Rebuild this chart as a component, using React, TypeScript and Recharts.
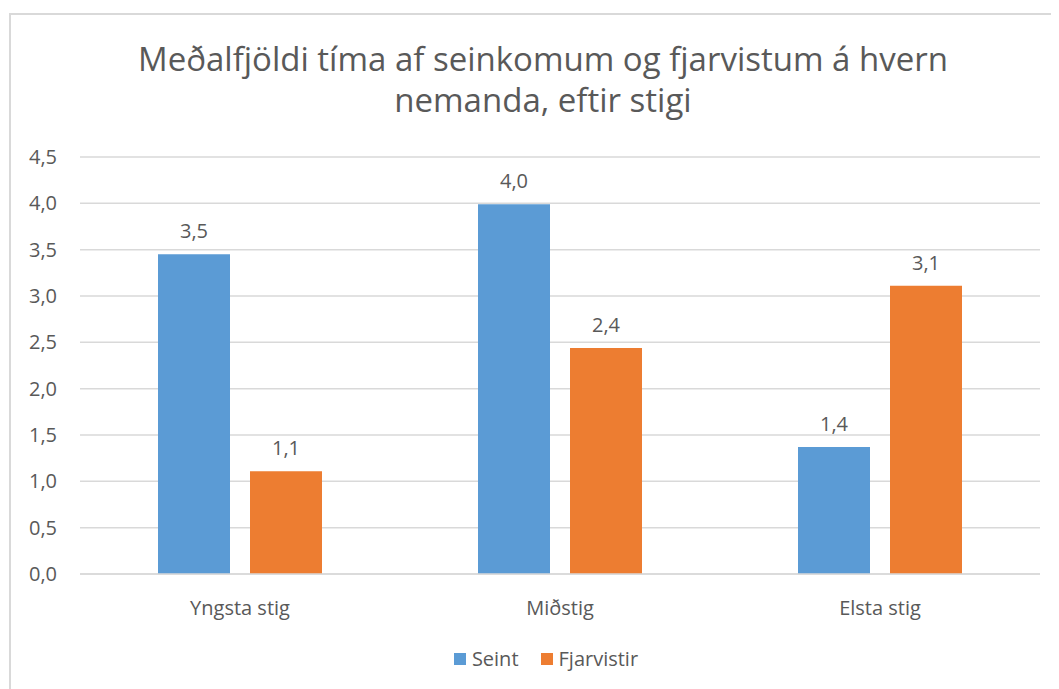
import React from "react";
import { BarChart, Bar, XAxis, YAxis, CartesianGrid, LabelList } from "recharts";

const categories = ["Yngsta stig", "Miðstig", "Elsta stig"];
const seint = [3.45, 3.99, 1.37];
const fjarvistir = [1.11, 2.44, 3.11];
const yTicks = [0, 0.5, 1, 1.5, 2, 2.5, 3, 3.5, 4, 4.5];
const titleLines = ["Meðalfjöldi tíma af seinkomum og fjarvistum á hvern", "nemanda, eftir stigi"];
const seriesNames = ["Seint", "Fjarvistir"];
const colors = ["#5B9BD5", "#ED7D31"];

const data = categories.map((c, i) => ({ name: c, seint: seint[i], fjarvistir: fjarvistir[i] }));

const FONT = "'Open Sans', sans-serif";
const TEXT = "#595959";
const fmt = (v: number) => v.toFixed(1).replace(".", ",");

export default function App() {
  return (
    <div style={{ position: "relative", width: 1051, height: 681, fontFamily: FONT, overflow: "hidden" }}>
      <div style={{ position: "absolute", left: 1, top: 5, width: 1100, height: 700, borderTop: "2px solid #d9d9d9", borderLeft: "2px solid #d9d9d9" }} />
      <div style={{ position: "absolute", left: 55, width: 960, top: 30, textAlign: "center", color: TEXT, fontSize: 33, lineHeight: "41px" }}>
        {titleLines.map((t) => (
          <div key={t}>{t}</div>
        ))}
      </div>
      <div style={{ position: "absolute", left: 0, top: 0 }}>
        <BarChart width={1051} height={681} data={data} margin={{ top: 149, right: 19, bottom: 65, left: 0 }} barSize={72} barGap={20} barCategoryGap={78}>
          <CartesianGrid vertical={false} stroke="#d9d9d9" strokeWidth={1.5} />
          <XAxis dataKey="name" tickLine={false} axisLine={{ stroke: "#d9d9d9", strokeWidth: 1.5 }} tick={{ fill: TEXT, fontSize: 20, fontFamily: FONT }} tickMargin={21} height={50} />
          <YAxis domain={[0, 4.5]} ticks={yTicks} tickFormatter={fmt} axisLine={false} tickLine={false} tickSize={0} tickMargin={23} width={72} tick={{ fill: TEXT, fontSize: 20, fontFamily: FONT }} interval={0} />
          <Bar dataKey="seint" fill={colors[0]} isAnimationActive={false}>
            <LabelList dataKey="seint" position="top" offset={16} formatter={(v: number) => fmt(v)} style={{ fill: TEXT, fontSize: 20, fontFamily: FONT }} />
          </Bar>
          <Bar dataKey="fjarvistir" fill={colors[1]} isAnimationActive={false}>
            <LabelList dataKey="fjarvistir" position="top" offset={16} formatter={(v: number) => fmt(v)} style={{ fill: TEXT, fontSize: 20, fontFamily: FONT }} />
          </Bar>
        </BarChart>
      </div>
      <div style={{ position: "absolute", top: 637, left: 0, width: 1076, display: "flex", justifyContent: "center", alignItems: "center", color: TEXT, fontSize: 20 }}>
        {seriesNames.map((n, i) => (
          <div key={n} style={{ display: "flex", alignItems: "center", marginRight: i === 0 ? 22 : 0 }}>
            <span style={{ width: 12, height: 12, background: colors[i], marginRight: 6, display: "inline-block" }} />
            <span>{n}</span>
          </div>
        ))}
      </div>
    </div>
  );
}
